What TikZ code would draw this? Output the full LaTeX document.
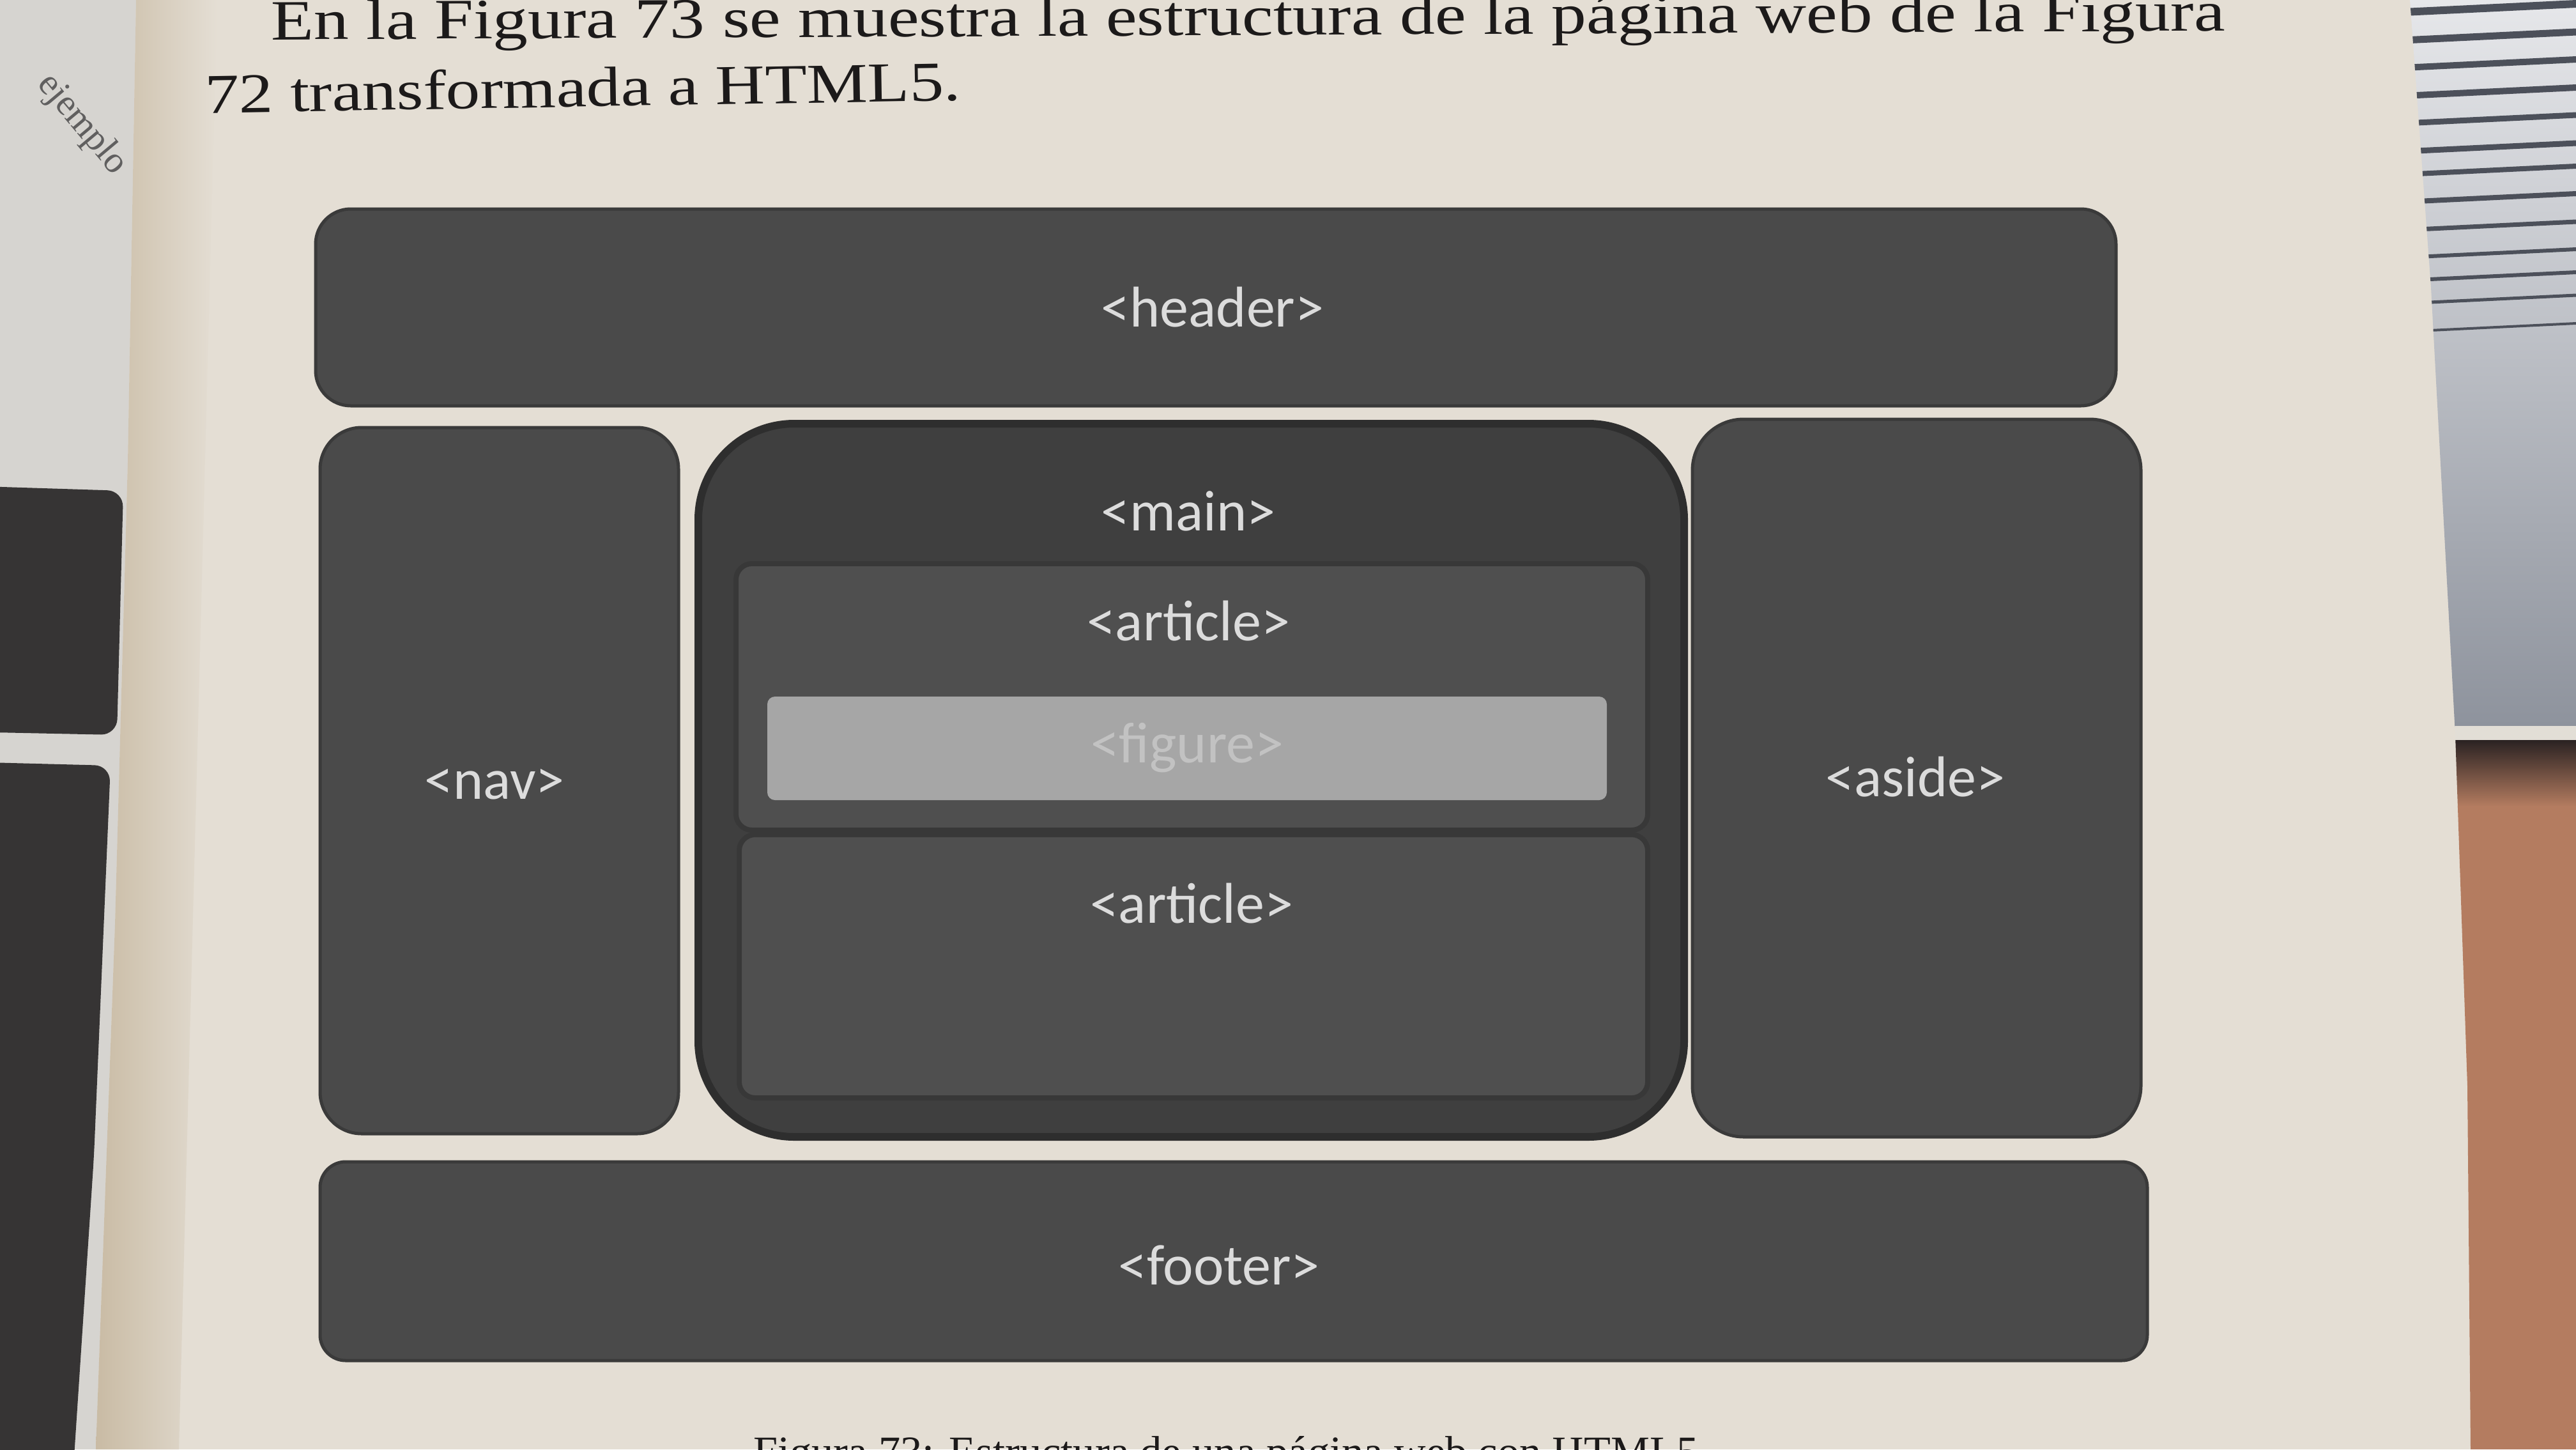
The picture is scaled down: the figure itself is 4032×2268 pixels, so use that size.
\documentclass[tikz,border=0pt]{standalone}
\usepackage{fontspec}
\usepackage{graphicx}
\setmainfont{Liberation Serif}
\newfontfamily\tagfont{Carlito}
\definecolor{pagecol}{HTML}{E4DED4}
\definecolor{guttercol}{HTML}{C9BBA4}
\definecolor{leftpage}{HTML}{D6D4D0}
\definecolor{leftdark}{HTML}{363434}
\definecolor{boxfill}{HTML}{4A4A4A}
\definecolor{boxedge}{HTML}{3A3A3A}
\definecolor{maincol}{HTML}{3F3F3F}
\definecolor{mainedge}{HTML}{2E2E2E}
\definecolor{artcol}{HTML}{4F4F4F}
\definecolor{artedge}{HTML}{383838}
\definecolor{figcol}{HTML}{A6A6A6}
\definecolor{figtext}{HTML}{C2C2C2}
\definecolor{tagcol}{HTML}{DCDCDC}
\definecolor{inkcol}{HTML}{1C1A1A}
\definecolor{stripelight}{HTML}{E6E7EA}
\definecolor{stripedark}{HTML}{4C505A}
\definecolor{slate}{HTML}{8E939D}
\definecolor{edgelight}{HTML}{E2DED6}
\definecolor{shadowcol}{HTML}{2A2222}
\definecolor{wood}{HTML}{B47C60}
\begin{document}
\begin{tikzpicture}[x=1pt,y=-1pt,
  region/.style={fill=boxfill, draw=boxedge, line width=5pt, inner sep=0pt,
    outer sep=0pt, rounded corners=#1},
  region/.default=50pt,
  tagtext/.style={font=\tagfont\fontsize{90pt}{90pt}\selectfont, text=tagcol,
    inner sep=0pt},
  inktext/.style={anchor=base west, inner sep=0pt, text=inkcol},
]
\useasboundingbox (0,0) rectangle (4032,2268);
\clip (0,0) rectangle (4032,2268);

% paper of the open page
\fill[pagecol] (0,0) rectangle (4032,2268);

% facing page on the left, with the gutter shadow
\fill[leftpage] (0,0) -- (213,0) -- (200,724) -- (180,1447) -- (150,2268) -- (0,2268) -- cycle;
\fill[leftdark, rounded corners=25pt] (-60,760) -- (193,768) -- (183,1150) -- (-60,1145) -- cycle;
\fill[leftdark, rounded corners=25pt] (-60,1192) -- (173,1198) -- (147,1810) -- (112,2340) -- (-60,2340) -- cycle;
\node[rotate=-50, text=inkcol!70, font=\fontsize{58pt}{58pt}\selectfont, inner sep=0pt]
  (leftword) at (128,195) {ejemplo};
\shade[left color=guttercol, right color=pagecol]
  (213,0) -- (340,0) -- (280,2268) -- (150,2268) -- (180,1447) -- (200,724) -- cycle;

% desk and book stack beyond the right page edge
\begin{scope}
  \clip (3772,0) -- (4032,0) -- (4032,2268) -- (3867,2268) -- (3862,1700)
        -- (3843,1150) -- (3805,450) -- cycle;
  \shade[top color=stripelight, bottom color=slate] (3700,0) rectangle (4032,1136);
  \foreach \yy/\w in {14/12,58/11,101/10,145/10,188/9,232/9,268/8,311/8,355/7,398/6,434/6,470/5,514/4}
    \draw[stripedark, line width=\w pt] (3700,\yy+8) -- (4032,\yy-8);
  \fill[edgelight] (3700,1136) rectangle (4032,1158);
  \shade[top color=shadowcol, bottom color=wood] (3700,1158) rectangle (4032,1262);
  \fill[wood] (3700,1262) rectangle (4032,2268);
\end{scope}

% running text above the figure
\node[inktext, rotate=0.26] (intro1) at (424,62)
  {\resizebox{3058pt}{62pt}{En la Figura 73 se muestra la estructura de la página web de la Figura}};
\node[inktext, rotate=0.97] (intro2) at (321,177)
  {\resizebox{1183pt}{62pt}{72 transformada a HTML5.}};

% page layout blocks
\node[region=55pt, minimum width=2818pt, minimum height=308pt] (header) at (1903,481) {};
\node[region=65pt, minimum width=561pt, minimum height=1105pt] (nav) at (781.5,1221.5) {};
\node[region=150pt, fill=maincol, draw=mainedge, line width=12pt,
      minimum width=1543pt, minimum height=1116pt] (main) at (1864.5,1221) {};
\node[region=25pt, fill=artcol, draw=artedge, line width=8pt,
      minimum width=1427pt, minimum height=417pt] (article1) at (1865.5,1090.5) {};
\node[region=25pt, fill=artcol, draw=artedge, line width=8pt,
      minimum width=1422pt, minimum height=412pt] (article2) at (1868,1512) {};
\node[region=12pt, fill=figcol, draw=none,
      minimum width=1314pt, minimum height=162pt] (figure) at (1858,1171) {};
\node[region=80pt, minimum width=702pt, minimum height=1123pt] (aside) at (3000,1217.5) {};
\node[region=40pt, minimum width=2860pt, minimum height=311pt] (footer) at (1931,1973.5) {};

% element names
\node[tagtext] (headertag) at (1898,481) {<header>};
\node[tagtext] (maintag) at (1860,800) {<main>};
\node[tagtext] (article1tag) at (1860,972) {<article>};
\node[tagtext, text=figtext] (figuretag) at (1858,1170) {<figure>};
\node[tagtext] (article2tag) at (1865,1414) {<article>};
\node[tagtext] (navtag) at (774,1227) {<nav>};
\node[tagtext] (asidetag) at (2998,1216) {<aside>};
\node[tagtext] (footertag) at (1908,1980) {<footer>};

% caption, running off the lower edge
\node[inktext] (caption) at (1179,2294)
  {\resizebox{1479pt}{47pt}{Figura 73: Estructura de una página web con HTML5}};
\end{tikzpicture}
\end{document}
